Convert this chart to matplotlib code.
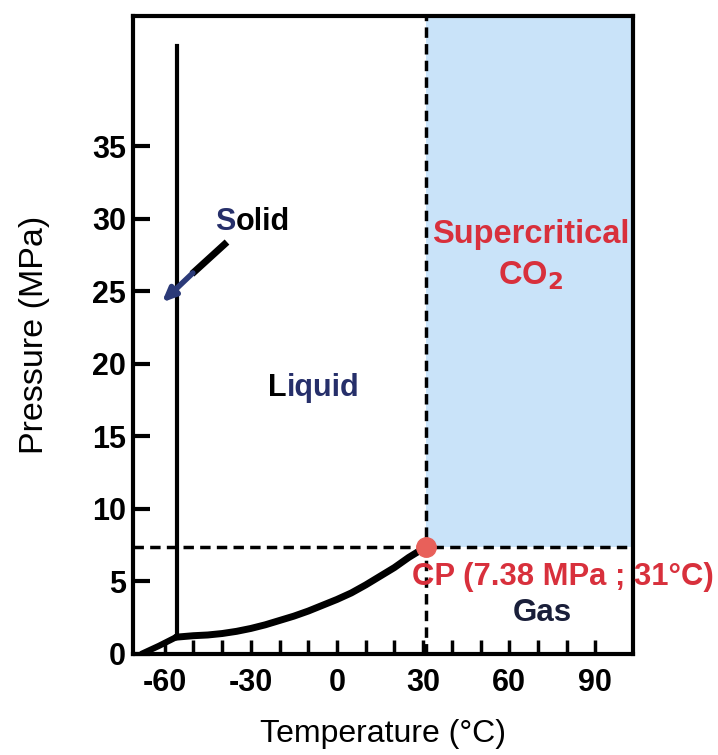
import matplotlib
matplotlib.use("Agg")
import matplotlib.pyplot as plt
from matplotlib.ticker import FixedLocator

plt.rcParams['font.family'] = ['Liberation Sans', 'DejaVu Sans']
plt.rcParams['axes.unicode_minus'] = False

# Data
cp_T, cp_P = 31, 7.38
sub_T = [-68, -62, -56]
sub_P = [0.0, 0.55, 1.15]
vap_T = [-56, -50, -45, -40, -35, -30, -25, -20, -15, -10, -5, 0, 5, 10, 15, 20, 25, 31]
vap_P = [1.15, 1.25, 1.3, 1.4, 1.55, 1.75, 2.0, 2.3, 2.6, 2.95, 3.35, 3.75, 4.2, 4.75, 5.35, 5.95, 6.65, 7.38]
melt_T = [-55.7, -55.7]
melt_P = [1.15, 41.9]
x_ticks = [-60, -30, 0, 30, 60, 90]
x_minor = [-60, -50, -40, -30, -20, -10, 0, 10, 20, 30, 40, 50, 60, 70, 80, 90]
y_ticks = [0, 5, 10, 15, 20, 25, 30, 35]
xlim = (-71.1, 103.2)
ylim = (0, 44)

fig = plt.figure(figsize=(7.18, 7.55), dpi=100)
ax = fig.add_axes([0.185, 0.134, 0.697, 0.845])
ax.set_xlim(*xlim)
ax.set_ylim(*ylim)

# supercritical region
ax.fill_between([cp_T, xlim[1]], cp_P, ylim[1], color='#c9e3f9', lw=0, zorder=0)

# dashed lines through critical point
ax.plot([cp_T, cp_T], [ylim[0], ylim[1]], ls=(0, (3, 1.8)), color='black', lw=2.5, zorder=2)
ax.plot([xlim[0], xlim[1]], [cp_P, cp_P], ls=(0, (3, 1.8)), color='black', lw=2.5, zorder=2)

# phase boundaries
ax.plot(sub_T, sub_P, color='black', lw=4.5, solid_capstyle='round', zorder=3)
ax.plot(vap_T, vap_P, color='black', lw=5, solid_capstyle='round', solid_joinstyle='round', zorder=3)
ax.plot(melt_T, melt_P, color='black', lw=3, zorder=3)

# critical point
ax.plot([cp_T], [cp_P], 'o', color='#e8605a', ms=14, zorder=5, clip_on=False)

# Solid arrow
ax.plot([-38.3, -50.5], [28.4, 26.2], color='black', lw=5, solid_capstyle='butt', zorder=4)
ax.annotate('', xy=(-61.7, 24.1), xytext=(-49.5, 26.4),
            arrowprops=dict(arrowstyle='-|>,head_length=0.8,head_width=0.35', color='#2b3a78', lw=4),
            zorder=4)

# labels
navy = '#262f6a'
s_txt = ax.text(-42.5, 29.8, 'S', color=navy, fontsize=22, fontweight='bold', ha='left', va='center')
ax.annotate('olid', xy=(1, 0), xycoords=s_txt, va='bottom', ha='left',
            color='black', fontsize=22, fontweight='bold')
l_txt = ax.text(-23.9, 18.3, 'L', color='black', fontsize=22, fontweight='bold', ha='left', va='center')
ax.annotate('iquid', xy=(1, 0), xycoords=l_txt, va='bottom', ha='left',
            color=navy, fontsize=22, fontweight='bold')
ax.text(67.6, 28.9, 'Supercritical', color='#d8303c', fontsize=23.5, fontweight='bold', ha='center', va='center')
ax.text(67.6, 26.1, 'CO$_\\mathbf{2}$', color='#d8303c', fontsize=23.5, fontweight='bold', ha='center', va='center')
ax.text(78.7, 5.3, 'CP (7.38 MPa ; 31°C)', color='#d8303c', fontsize=22.3, fontweight='bold', ha='center', va='center')
ax.text(71.4, 2.85, 'Gas', color='#1a1f3a', fontsize=22.5, fontweight='bold', ha='center', va='center')

# axes styling
for s in ax.spines.values():
    s.set_linewidth(3)
ax.set_xticks(x_ticks)
ax.set_yticks(y_ticks)
ax.xaxis.set_minor_locator(FixedLocator(x_minor))
ax.tick_params(axis='x', which='both', direction='in', length=10, width=2.5, pad=10)
ax.tick_params(axis='y', which='major', direction='in', length=12, width=3, pad=5)
ax.tick_params(axis='both', labelsize=22)
for lab in ax.get_xticklabels() + ax.get_yticklabels():
    lab.set_fontweight('bold')

ax.set_xlabel('Temperature (°C)', fontsize=23, labelpad=15)
ax.set_ylabel('Pressure (MPa)', fontsize=24.5, labelpad=30)

fig.savefig('out.png', dpi=100)
